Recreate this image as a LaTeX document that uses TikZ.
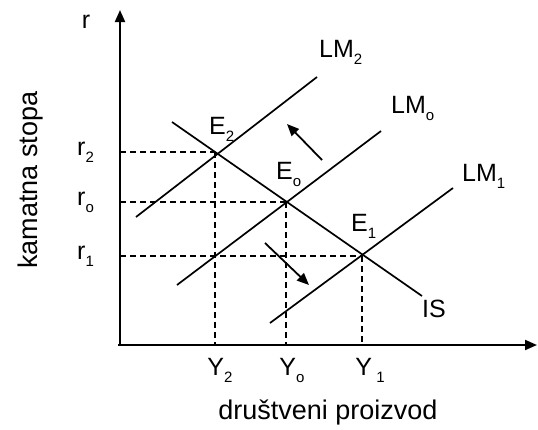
\documentclass[tikz,border=0pt]{standalone}
\usepackage{fontspec}
\setmainfont{Liberation Sans}
\usetikzlibrary{arrows.meta}
\newcommand{\lowsub}[1]{\raisebox{-7pt}{\fontsize{15}{15}\selectfont #1}}
\begin{document}
\begin{tikzpicture}[x=1pt,y=-1pt,
  lbl/.style={inner sep=0pt,font=\fontsize{25}{28}\selectfont},
  ttl/.style={inner sep=0pt,font=\fontsize{27}{30}\selectfont},
  axis/.style={line width=2pt,-{Triangle[length=12pt,width=10pt]}},
  curve/.style={line width=1.7pt},
  guide/.style={line width=1.5pt,dash pattern=on 6pt off 4pt},
  movearrow/.style={line width=1.8pt,-{Triangle[length=12pt,width=10pt]}}]
\useasboundingbox (0,0) rectangle (538,429);
% axes
\coordinate (O) at (120,345);
\coordinate (ytop) at (120,10);
\coordinate (xend) at (537,345);
\coordinate (xstart) at (118,345);
\draw[axis] (O) -- (ytop);
\draw[axis] (xstart) -- (xend);
% equilibria
\coordinate (E2) at (215,152);
\coordinate (E0) at (286,202);
\coordinate (E1) at (362,256);
% axis feet
\coordinate (r2) at (120,152);
\coordinate (r0) at (120,202);
\coordinate (r1) at (120,256);
\coordinate (Y2) at (215,345);
\coordinate (Y0) at (286,345);
\coordinate (Y1) at (362,345);
% guides
\draw[guide] (r2) -- (E2);
\draw[guide] (r0) -- (E0);
\draw[guide] (r1) -- (E1);
\draw[guide] (E2) -- (Y2);
\draw[guide] (E0) -- (Y0);
\draw[guide] (E1) -- (Y1);
% curves
\coordinate (ISa) at (172,122);
\coordinate (ISb) at (422,296);
\draw[curve] (ISa) -- (ISb);
\coordinate (LM2a) at (136,217);
\coordinate (LM2b) at (317,77);
\draw[curve] (LM2a) -- (LM2b);
\coordinate (LM0a) at (177,285);
\coordinate (LM0b) at (381,131);
\draw[curve] (LM0a) -- (LM0b);
\coordinate (LM1a) at (270,323);
\coordinate (LM1b) at (453,188);
\draw[curve] (LM1a) -- (LM1b);
% shift arrows
\coordinate (u1) at (322,160);
\coordinate (u2) at (287,124);
\draw[movearrow] (u1) -- (u2);
\coordinate (d1) at (265,243);
\coordinate (d2) at (309,285);
\draw[movearrow] (d1) -- (d2);
% labels
\node[lbl] (rl) at (86,22) {r};
\node[lbl,anchor=west] (r2l) at (77,152) {r\lowsub{2}};
\node[lbl,anchor=west] (r0l) at (77,202) {r\lowsub{o}};
\node[lbl,anchor=west] (r1l) at (77,256) {r\lowsub{1}};
\node[lbl,anchor=west] (LM2l) at (319,52) {LM\lowsub{2}};
\node[lbl,anchor=west] (LM0l) at (391,108) {LM\lowsub{o}};
\node[lbl,anchor=west] (LM1l) at (462,176) {LM\lowsub{1}};
\node[lbl,anchor=west] (E2l) at (209,129) {E\lowsub{2}};
\node[lbl,anchor=west] (E0l) at (276,174) {E\lowsub{o}};
\node[lbl,anchor=west] (E1l) at (351,226) {E\lowsub{1}};
\node[lbl,anchor=west] (ISl) at (422,309) {IS};
\node[lbl] (Y2l) at (220,370) {Y\lowsub{2}};
\node[lbl] (Y0l) at (292,370) {Y\lowsub{o}};
\node[lbl] (Y1l) at (370,370) {Y\,\lowsub{1}};
\node[ttl] (xt) at (328,412) {društveni proizvod};
\node[ttl,rotate=90] (yt) at (31,180) {kamatna stopa};
\end{tikzpicture}
\end{document}
